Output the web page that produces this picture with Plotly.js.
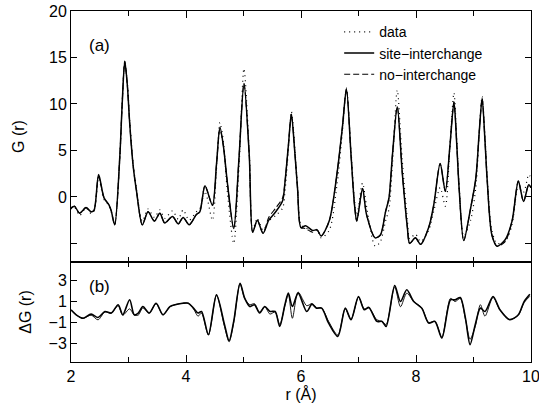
<!DOCTYPE html>
<html>
<head>
<meta charset="utf-8">
<script src="https://cdn.plot.ly/plotly-3.0.1.min.js"></script>
<style>html,body{margin:0;padding:0;background:#fff;}#chart{width:539px;height:412px;}</style>
</head>
<body>
<div id="chart"></div>
<script>
// ---- top panel: G(r) ----
var rTop = [2.00,2.06,2.15,2.26,2.35,2.40,2.48,2.575,2.66,2.70,2.76,2.85,2.89,2.935,2.98,3.02,3.08,3.14,3.24,3.34,3.45,3.545,3.63,3.765,3.865,3.95,4.055,4.18,4.24,4.33,4.46,4.53,4.59,4.65,4.72,4.83,4.92,5.008,5.10,5.16,5.24,5.34,5.44,5.56,5.68,5.72,5.78,5.833,5.89,5.94,6.00,6.08,6.20,6.28,6.35,6.49,6.63,6.72,6.79,6.87,6.93,6.97,7.07,7.14,7.29,7.38,7.47,7.53,7.59,7.674,7.76,7.85,7.89,7.99,8.08,8.22,8.31,8.42,8.51,8.59,8.66,8.71,8.75,8.83,8.95,9.04,9.10,9.15,9.20,9.24,9.32,9.41,9.55,9.67,9.78,9.87,9.96,10.0];
var gData = [-1.3,-1.1,-2.0,-1.2,-1.8,-1.5,2.0,-0.3,-0.9,-1.6,-3.0,4.3,10.0,14.5,12.2,8.3,3.6,0.8,-2.6,-1.3,-2.2,-1.4,-2.3,-1.5,-2.4,-1.4,-2.5,-1.6,-1.3,0.6,-2.5,3.0,8.0,6.0,0.5,-5.0,3.0,13.8,4.8,-3.6,-2.3,-3.6,-2.6,-2.0,-1.2,0.5,5.0,9.2,5.5,1.0,-3.0,-3.3,-3.7,-3.5,-4.4,-3.6,1.5,7.0,11.7,5.0,-0.3,-2.0,1.5,-1.0,-5.3,-4.8,-2.6,-1.3,3.5,11.5,4.0,-2.5,-4.5,-4.0,-4.8,-3.6,-1.5,1.0,-1.0,5.5,11.2,6.0,1.2,-4.2,-2.5,1.0,7.0,10.8,6.5,2.0,-3.6,-5.0,-4.8,-3.0,1.0,0.5,2.4,2.0];
var gSite = [-1.2,-1.0,-1.75,-1.15,-1.6,-1.45,2.4,-0.1,-0.85,-1.5,-3.0,4.5,10.0,14.6,12.0,8.0,3.4,0.6,-3.0,-1.6,-2.6,-1.75,-2.8,-2.1,-2.9,-2.2,-3.0,-1.9,-1.6,1.2,-0.9,3.5,7.5,5.5,1.5,-3.4,4.0,12.2,4.5,-3.8,-2.5,-3.9,-2.5,-1.6,-0.4,1.5,5.5,8.9,5.0,0.9,-3.3,-3.1,-3.6,-3.55,-4.2,-2.6,2.7,7.5,11.6,4.5,-0.8,-2.6,0.9,-1.9,-4.4,-4.1,-1.6,-0.1,4.5,9.7,2.7,-3.3,-5.0,-4.4,-5.1,-3.3,-0.8,3.6,0.6,5.5,10.2,5.5,0.9,-4.7,-1.2,2.0,7.0,10.6,6.0,1.6,-4.1,-5.3,-4.6,-2.6,1.7,-0.5,1.3,1.0];
var gNo = [-1.2,-1.0,-1.75,-1.15,-1.6,-1.45,2.2,-0.1,-0.85,-1.5,-3.0,4.5,10.0,14.6,12.0,8.0,3.4,0.6,-3.0,-1.6,-2.6,-1.75,-2.8,-2.1,-2.9,-2.2,-3.0,-1.9,-1.6,1.2,-0.9,3.4,7.3,5.5,1.5,-3.4,4.0,12.2,4.5,-3.8,-2.5,-3.9,-2.2,-1.2,-0.1,1.5,5.5,8.9,5.0,0.9,-3.3,-3.4,-3.8,-3.55,-4.2,-2.6,2.7,7.5,11.6,4.5,-0.8,-2.6,0.9,-1.9,-4.4,-4.1,-1.6,-0.1,4.5,9.7,2.7,-3.3,-5.0,-4.4,-5.1,-3.3,-0.8,3.6,0.6,5.5,10.2,5.5,0.9,-4.7,-1.2,2.0,7.0,10.6,6.0,1.6,-4.1,-5.3,-4.8,-2.6,1.7,-0.5,1.3,1.0];

// ---- bottom panel: difference curves ----
var rDiff = [2.00,2.09,2.21,2.35,2.47,2.59,2.70,2.82,2.90,3.02,3.10,3.17,3.25,3.36,3.48,3.60,3.72,3.81,3.95,4.04,4.13,4.21,4.27,4.39,4.53,4.67,4.75,4.83,4.94,5.02,5.11,5.19,5.28,5.37,5.46,5.55,5.63,5.72,5.78,5.85,5.95,6.10,6.19,6.27,6.36,6.48,6.64,6.77,6.87,7.00,7.10,7.18,7.32,7.41,7.48,7.63,7.73,7.84,7.96,8.10,8.22,8.33,8.45,8.60,8.68,8.77,8.86,8.94,9.03,9.12,9.20,9.34,9.46,9.63,9.78,9.88,9.98];
var dSite = [0.2,-0.27,-0.6,-0.2,-0.52,0.05,-0.1,0.7,-0.27,1.17,-0.27,-0.1,0.52,-0.1,0.84,-0.27,0.52,0.69,0.84,0.84,0.37,-0.1,0.05,-2.17,1.64,-1.22,-2.75,-0.9,2.75,1.32,0.52,0.69,-0.1,0.52,0.05,0.05,-1.38,0.69,1.8,0.52,1.8,0.05,0.75,0.37,0.37,-1.06,-2.33,0.37,-0.74,1.48,0.21,0.44,-0.9,-0.9,-1.38,2.53,1.0,2.12,1.0,0.37,-1.06,-0.9,-2.49,1.16,1.16,1.38,-0.59,-3.12,-1.22,0.37,0.05,1.48,0.21,-0.74,-0.27,1.0,1.7];
var dNo = [0.2,-0.27,-0.6,-0.3,-0.75,0.0,-0.1,0.6,-0.3,0.3,-0.3,-0.3,0.4,-0.1,0.8,-0.27,0.5,0.7,0.84,0.84,0.3,-0.4,-0.1,-2.2,1.6,-1.4,-2.85,-1.0,2.7,1.3,0.7,0.8,0.0,0.5,-0.2,0.0,-1.2,0.6,1.7,-0.6,1.9,0.6,0.8,0.4,0.37,-0.9,-2.2,0.3,-0.7,1.4,0.3,0.4,-0.75,-0.9,-1.2,2.4,0.5,1.8,1.0,0.4,-1.0,-0.9,-2.4,1.3,1.0,1.3,-0.7,-2.6,-1.4,0.7,-0.4,1.4,0.2,-0.7,-0.3,0.9,1.5];

// ---- tick labels ----
var gTickVals = [-5,0,5,10,15,20];
var gTickText = ['','0','5','10','15','20'];
var dTickVals = [-3,-1,1,3];
var dTickText = ['\u22123','\u22121','1','3'];
var dMinorVals = [-4,-3,-2,-1,0,1,2,3,4];
var xTickVals = [2,4,6,8,10];
var xTickText = ['2','4','6','8','10'];

var FONT = 'Liberation Sans, Arial, sans-serif';

var traces = [
  {x: rTop, y: gData, mode: 'lines', name: 'data', line: {color: '#000', width: 1.2, dash: '1px,4px', shape: 'spline', smoothing: 0.8}, xaxis: 'x', yaxis: 'y'},
  {x: rTop, y: gSite, mode: 'lines', name: 'site\u2212interchange', line: {color: '#000', width: 1.5, shape: 'spline', smoothing: 0.8}, xaxis: 'x', yaxis: 'y'},
  {x: rTop, y: gNo, mode: 'lines', name: 'no\u2212interchange', line: {color: '#000', width: 1.1, dash: '6px,3px', shape: 'spline', smoothing: 0.8}, xaxis: 'x', yaxis: 'y'},
  {x: rDiff, y: dSite, mode: 'lines', showlegend: false, line: {color: '#000', width: 1.6, shape: 'spline', smoothing: 0.8}, xaxis: 'x2', yaxis: 'y2'},
  {x: rDiff, y: dNo, mode: 'lines', showlegend: false, line: {color: '#000', width: 0.9, shape: 'spline', smoothing: 0.8}, xaxis: 'x2', yaxis: 'y2'}
];

var axisCommon = {showline: true, linecolor: '#000', linewidth: 1, ticks: 'inside', tickcolor: '#000', zeroline: false, showgrid: false, ticklabeloverflow: 'allow'};
var XR = [2, 10];

var layout = {
  width: 539, height: 412,
  margin: {l: 71, r: 8, t: 11, b: 50},
  paper_bgcolor: '#fff', plot_bgcolor: '#fff',
  font: {family: FONT, size: 16, color: '#000'},
  showlegend: true,
  legend: {x: 0.583, y: 0.985, xanchor: 'left', yanchor: 'top', bgcolor: 'rgba(0,0,0,0)', font: {size: 14, family: FONT}, tracegroupgap: 0},
  xaxis: Object.assign({}, axisCommon, {range: XR, domain: [0, 1], anchor: 'y', mirror: 'ticks', tickvals: xTickVals, ticklen: 7, showticklabels: false,
    minor: {tickvals: [3,5,7,9], ticks: 'inside', ticklen: 5, tickcolor: '#000'}}),
  yaxis: Object.assign({}, axisCommon, {range: [-7, 20], domain: [0.2849, 1], anchor: 'x', mirror: 'ticks', tickvals: gTickVals, ticktext: gTickText, ticklen: 6,
    title: {text: 'G (r)', font: {size: 16, family: FONT}, standoff: 20}}),
  xaxis2: Object.assign({}, axisCommon, {range: XR, domain: [0, 1], anchor: 'y2', mirror: 'ticks', tickvals: xTickVals, ticktext: xTickText, ticklen: 7,
    minor: {tickvals: [3,5,7,9], ticks: 'inside', ticklen: 5, tickcolor: '#000'},
    title: {text: 'r (\u00c5)', font: {size: 16, family: FONT}, standoff: 3}}),
  yaxis2: Object.assign({}, axisCommon, {range: [-4.78, 4.78], domain: [0, 0.2849], anchor: 'x2', mirror: true, tickvals: dTickVals, ticktext: dTickText, ticklen: 6,
    title: {text: '\u0394G (r)', font: {size: 16, family: FONT}, standoff: 12}}),
  yaxis3: {range: [-4.78, 4.78], domain: [0, 0.2849], overlaying: 'y2', side: 'right', anchor: 'x2', showline: false, showgrid: false, zeroline: false,
    ticks: 'inside', ticklen: 6, tickcolor: '#000', tickvals: dMinorVals, showticklabels: false},
  annotations: [
    {xref: 'paper', yref: 'paper', x: 0.061, y: 0.903, xanchor: 'center', yanchor: 'middle', text: '(a)', showarrow: false, font: {size: 17, family: FONT}},
    {xref: 'paper', yref: 'paper', x: 0.061, y: 0.2165, xanchor: 'center', yanchor: 'middle', text: '(b)', showarrow: false, font: {size: 17, family: FONT}}
  ]
};

Plotly.newPlot('chart', traces, layout, {staticPlot: true, displayModeBar: false});
</script>
</body>
</html>
